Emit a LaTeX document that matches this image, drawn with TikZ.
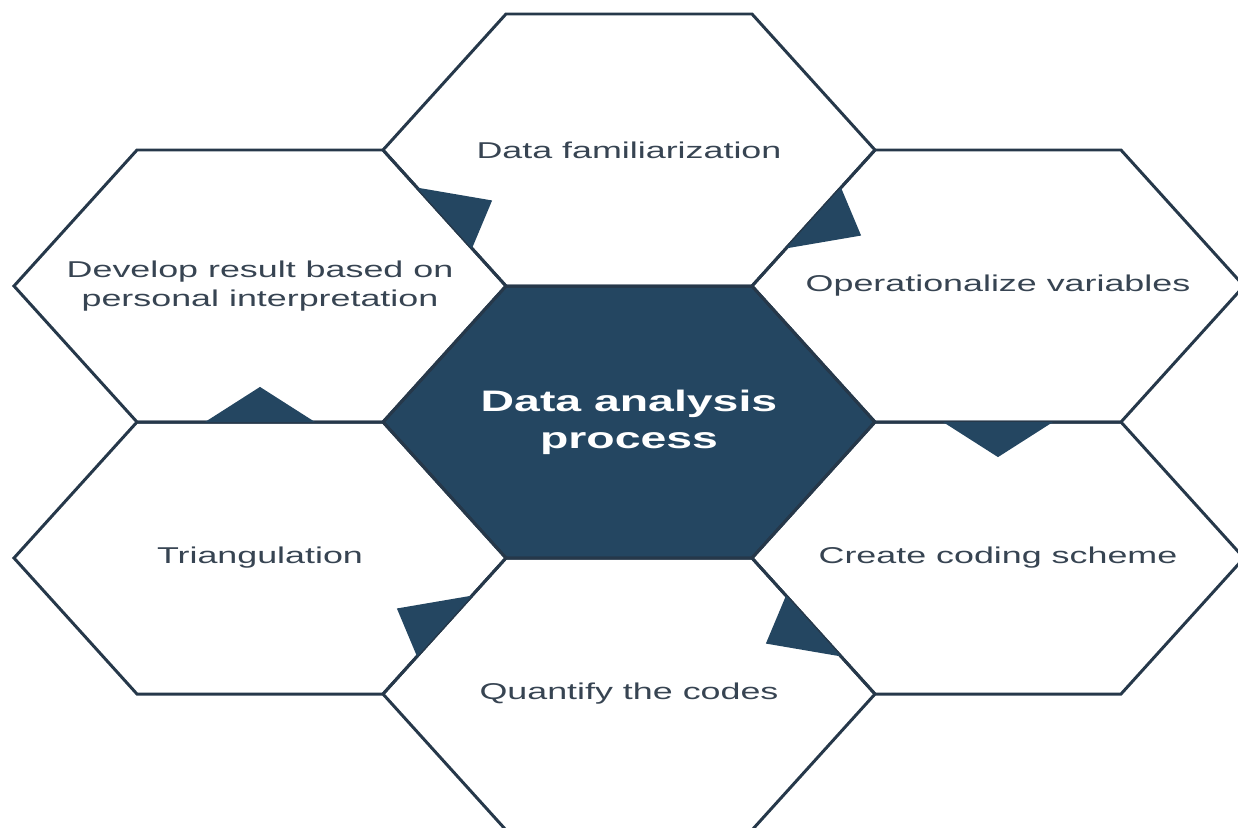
\documentclass[tikz,border=0pt]{standalone}
\usepackage{fontspec}
\setmainfont{Liberation Sans}
\usepackage{xcolor}
\definecolor{hexnavy}{RGB}{36,70,97}
\definecolor{hexline}{RGB}{38,56,74}
\definecolor{hextext}{RGB}{55,68,82}
\usetikzlibrary{calc}

\begin{document}
\begin{tikzpicture}[
    hexedge/.style={draw=hexline, line width=0.85pt, line join=miter},
    hexlabel/.style={text=hextext, align=center,
                     font=\fontsize{10.2}{12.6}\selectfont},
    hublabel/.style={text=white, align=center,
                     font=\bfseries\fontsize{13.2}{16.4}\selectfont},
    flowmark/.style={fill=hexnavy}
  ]
    \useasboundingbox (-6.29,-4.05) rectangle (6.09,4.22);
    \clip (-6.29,-4.05) rectangle (6.09,4.22);

    \begin{scope}[yscale=0.6384, every node/.append style={transform shape}]
      % Centre hexagon
      \filldraw[hexedge, fill=hexnavy] (0:2.46) -- (60:2.46) -- (120:2.46)
        -- (180:2.46) -- (240:2.46) -- (300:2.46) -- cycle;
      \node[hublabel] (hub) at (0,0) {Data analysis\\process};

      % Outer hexagons, clockwise from the top
      \foreach \ang/\name/\txt in {
          90/fam/{Data familiarization},
          30/oper/{Operationalize variables},
          -30/code/{Create coding scheme},
          -90/quant/{Quantify the codes},
          -150/tri/{Triangulation},
          150/dev/{Develop result based on\\personal interpretation}}{
        \draw[hexedge] (\ang:4.2608) +(0:2.46) -- +(60:2.46) -- +(120:2.46)
          -- +(180:2.46) -- +(240:2.46) -- +(300:2.46) -- cycle;
        \node[hexlabel] (\name) at (\ang:4.2608) {\txt};
      }
    \end{scope}

    % Flow marks on the shared edges
    \foreach \from/\to in {fam/oper, oper/code, code/quant,
                           quant/tri, tri/dev, dev/fam}{
      \coordinate (m) at ($(\from.center)!0.5!(\to.center)$);
      \fill[flowmark] ($(hub.center)!0.851!(m)$) -- ($(\from.center)!0.629!(\to.center)$)
        -- ($(hub.center)!1.149!(m)$) -- cycle;
    }
\end{tikzpicture}
\end{document}
